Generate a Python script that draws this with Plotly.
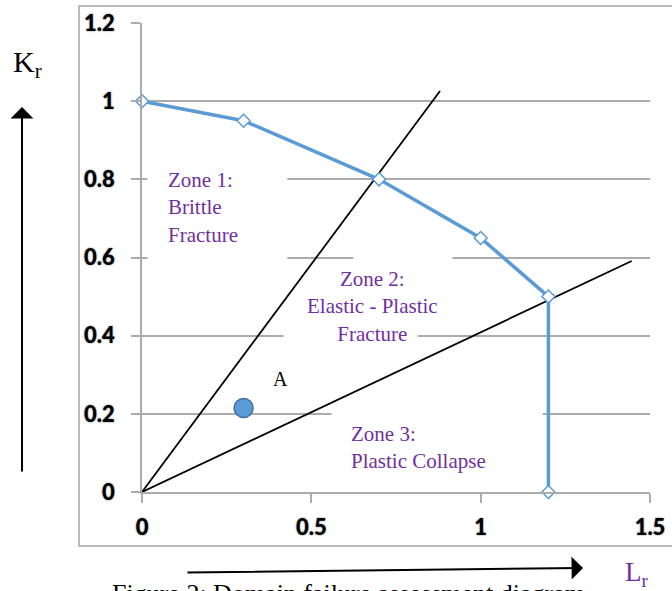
import plotly.graph_objects as go

# Failure assessment curve (Lr, Kr)
curve_lr = [0.0, 0.3, 0.7, 1.0, 1.2, 1.2]
curve_kr = [1.0, 0.95, 0.8, 0.65, 0.5, 0.0]

# Assessed point A
point_a_lr = [0.3]
point_a_kr = [0.215]

# Zone boundary lines from the origin
brittle_lr = [0.0, 0.88]
brittle_kr = [0.0, 1.026]
collapse_lr = [0.0, 1.446]
collapse_kr = [0.0, 0.591]

x_ticks = [0, 0.5, 1, 1.5]
x_tick_text = ["0", "0.5", "1", "1.5"]
y_ticks = [0, 0.2, 0.4, 0.6, 0.8, 1.0, 1.2]
y_tick_text = ["0", "0.2", "0.4", "0.6", "0.8", "1", "1.2"]

W, H = 672, 591
ML, MR, MT, MB = 142, 22, 23, 99
PW, PH = W - ML - MR, H - MT - MB


def px_x(px):
    return (px - ML) / PW


def px_y(py):
    return (H - MB - py) / PH


BLUE = "#5B9BD5"
PURPLE = "#7030A0"
GRID = "#ABABAB"
SERIF = "Liberation Serif"

fig = go.Figure()

fig.add_trace(go.Scatter(
    x=brittle_lr, y=brittle_kr, mode="lines",
    line=dict(color="black", width=1.8), hoverinfo="skip"))
fig.add_trace(go.Scatter(
    x=collapse_lr, y=collapse_kr, mode="lines",
    line=dict(color="black", width=1.8), hoverinfo="skip"))
fig.add_trace(go.Scatter(
    x=curve_lr, y=curve_kr, mode="lines+markers",
    line=dict(color=BLUE, width=3.5),
    marker=dict(symbol="diamond", size=10, color="white",
                line=dict(color=BLUE, width=1.5)),
    cliponaxis=False))
fig.add_trace(go.Scatter(
    x=point_a_lr, y=point_a_kr, mode="markers",
    marker=dict(symbol="circle", size=19, color=BLUE,
                line=dict(color="#41719C", width=1.5))))

# White text-box backgrounds covering parts of the gridlines
boxes = [
    (0.016, 0.429, 0.57, 0.84),
    (0.624, 0.917, 0.56, 0.64),
    (0.418, 0.814, 0.36, 0.44),
    (0.559, 1.183, 0.17, 0.25),
]
for x0, x1, y0, y1 in boxes:
    fig.add_shape(type="rect", xref="x", yref="y", x0=x0, x1=x1, y0=y0, y1=y1,
                  fillcolor="white", line=dict(width=0), layer="between")

# Outer frame
fig.add_shape(type="rect", xref="paper", yref="paper",
              x0=px_x(79), x1=px_x(673), y0=px_y(546), y1=px_y(6),
              line=dict(color="#A6A6A6", width=1.5), layer="below")

zone_font = dict(family=SERIF, size=21, color=PURPLE)
fig.add_annotation(x=0.072, y=0.728, xref="x", yref="y",
                   text="Zone 1:<br>Brittle<br>Fracture", showarrow=False,
                   xanchor="left", yanchor="middle", align="left", font=zone_font)
fig.add_annotation(x=0.682, y=0.4747, xref="x", yref="y",
                   text="Zone 2:<br>Elastic - Plastic<br>Fracture", showarrow=False,
                   xanchor="center", yanchor="middle", align="center", font=zone_font)
fig.add_annotation(x=0.612, y=0.1126, xref="x", yref="y",
                   text="Zone 3:<br>Plastic Collapse", showarrow=False,
                   xanchor="left", yanchor="middle", align="left", font=zone_font)
fig.add_annotation(x=0.41, y=0.29, xref="x", yref="y", text="A", showarrow=False,
                   xanchor="center", yanchor="middle",
                   font=dict(family=SERIF, size=20, color="black"))

# Axis direction arrows and labels
fig.add_annotation(x=px_x(22), y=px_y(107), xref="paper", yref="paper",
                   ax=0, ay=366, axref="pixel", ayref="pixel", text="",
                   showarrow=True, arrowhead=1, arrowsize=1.9, arrowwidth=2,
                   arrowcolor="black")
fig.add_annotation(x=px_x(583), y=px_y(568), xref="paper", yref="paper",
                   ax=-397, ay=4.5, axref="pixel", ayref="pixel", text="",
                   showarrow=True, arrowhead=1, arrowsize=1.9, arrowwidth=2,
                   arrowcolor="black")
fig.add_annotation(x=px_x(11), y=px_y(64), xref="paper", yref="paper",
                   text="K<sub>r</sub>", showarrow=False, xanchor="left",
                   yanchor="middle", font=dict(family=SERIF, size=30, color="black"))
fig.add_annotation(x=px_x(623), y=px_y(574), xref="paper", yref="paper",
                   text="L<sub>r</sub>", showarrow=False, xanchor="left",
                   yanchor="middle", font=dict(family=SERIF, size=27, color=PURPLE))
fig.add_annotation(x=px_x(110), y=px_y(576.5), xref="paper", yref="paper",
                   text="Figure 2: Domain failure assessment diagram", showarrow=False,
                   xanchor="left", yanchor="top",
                   font=dict(family=SERIF, size=26, color="black"))

tick_font = dict(family="Lato", size=22, color="black", weight=900,
                 shadow="0px 0px 2px rgba(0,0,0,0.55)")

fig.update_layout(
    width=W, height=H,
    margin=dict(l=ML, r=MR, t=MT, b=MB, pad=0, autoexpand=False),
    paper_bgcolor="white", plot_bgcolor="white",
    showlegend=False,
    xaxis=dict(range=[0, 1.5], tickvals=x_ticks, ticktext=x_tick_text,
               showgrid=False, zeroline=False, showline=True, linecolor=GRID,
               linewidth=1.5, ticks="outside", ticklen=9, tickcolor=GRID,
               tickwidth=1.5, tickfont=tick_font, ticklabelstandoff=6,
               automargin=False),
    yaxis=dict(range=[0, 1.2], tickvals=y_ticks, ticktext=y_tick_text,
               showgrid=True, gridcolor=GRID, gridwidth=1.5, zeroline=False,
               showline=True, linecolor=GRID, linewidth=1.5, ticks="outside",
               ticklen=9, tickcolor=GRID, tickwidth=1.5, tickfont=tick_font,
               ticklabelstandoff=12, automargin=False),
    yaxis2=dict(range=[0, 1.2], overlaying="y", side="left", tickvals=y_ticks,
                showticklabels=False, showgrid=False, zeroline=False,
                showline=False, ticks="inside", ticklen=5, tickcolor=GRID,
                tickwidth=1.5, automargin=False),
)

fig.write_html("out.html")
